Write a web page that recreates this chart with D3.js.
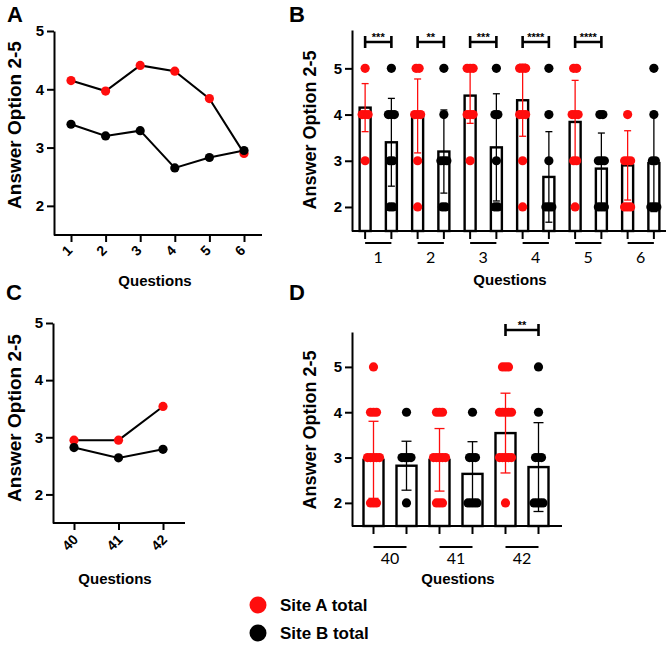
<!DOCTYPE html>
<html>
<head>
<meta charset="utf-8">
<script src="https://cdn.jsdelivr.net/npm/d3@7"></script>
<style>
  body { margin: 0; background: #fff; }
  svg { display: block; }
</style>
</head>
<body>
<svg id="fig" width="669" height="645"></svg>
<script>
// ---- data ----
const questionsAB = ["1", "2", "3", "4", "5", "6"];
const siteA_AB = [4.15, 3.97, 4.41, 4.31, 3.84, 2.90];
const siteB_AB = [3.40, 3.20, 3.29, 2.65, 2.83, 2.95];
const sdA_B = [0.52, 0.80, 0.60, 0.78, 0.90, 0.75];
const sdB_B = [0.95, 0.90, 1.16, 0.98, 0.77, 1.05];
const sigB = ["***", "**", "***", "****", "****", ""];

const questionsCD = ["40", "41", "42"];
const siteA_CD = [2.95, 2.95, 3.54];
const siteB_CD = [2.82, 2.64, 2.79];
const sdA_D = [0.85, 0.69, 0.88];
const sdB_D = [0.54, 0.71, 0.98];
const sigD = ["", "", "**"];

// individual answers: how many dots sit at each answer level
const answerLevels = [5, 4, 3, 2];
const countsA_B = [[1, 3, 1, 0], [2, 3, 1, 1], [3, 3, 1, 0], [3, 3, 1, 1], [2, 3, 2, 1], [0, 1, 3, 3]];
const countsB_B = [[1, 3, 2, 2], [1, 1, 3, 2], [1, 2, 1, 2], [1, 1, 1, 3], [0, 2, 3, 3], [1, 1, 2, 3]];
const countsA_D = [[1, 3, 5, 3], [0, 3, 5, 3], [3, 5, 5, 1]];
const countsB_D = [[0, 1, 4, 1], [0, 1, 3, 4], [1, 1, 3, 4]];

const yTicks = [2, 3, 4, 5];
const legendLabels = ["Site A total", "Site B total"];

const RED = "#ff0d0d";
const FONT = "'Liberation Sans', Arial, sans-serif";
const svg = d3.select("#fig");

function styleAxis(g, fs) {
  g.selectAll("path, line").attr("stroke", "#000").attr("stroke-width", 2);
  g.selectAll("text").attr("font-family", FONT).attr("font-weight", "bold")
    .attr("font-size", fs).attr("fill", "#000");
}

function panelLabel(t, x, y) {
  svg.append("text").attr("x", x).attr("y", y).text(t)
    .attr("font-family", FONT).attr("font-weight", "bold").attr("font-size", 22);
}

function yTitle(x, y, fs) {
  svg.append("text").attr("transform", `translate(${x},${y}) rotate(-90)`)
    .attr("text-anchor", "middle").attr("dy", "0.35em")
    .attr("font-family", FONT).attr("font-weight", "bold").attr("font-size", fs)
    .text("Answer Option 2-5");
}

function xTitle(x, y) {
  svg.append("text").attr("x", x).attr("y", y).attr("text-anchor", "middle")
    .attr("font-family", FONT).attr("font-weight", "bold").attr("font-size", 15)
    .text("Questions");
}

// line panels (A, C)
function linePanel(o) {
  const x = d3.scalePoint().domain(o.cats).range(o.xr);
  const y = d3.scaleLinear().domain([1.5, 5]).range(o.yr);
  const g = svg.append("g");

  const ya = g.append("g").attr("transform", `translate(${o.ax},0)`)
    .call(d3.axisLeft(y).tickValues(yTicks).tickFormat(d3.format("d")).tickSize(7).tickSizeOuter(0).tickPadding(3));
  styleAxis(ya, 15);

  const xa = g.append("g").attr("transform", `translate(0,${o.yr[0]})`)
    .call(d3.axisBottom(x).tickSize(7).tickSizeOuter(0));
  xa.select(".domain").remove();
  styleAxis(xa, 14);
  xa.selectAll("text").attr("text-anchor", "middle").attr("dy", null)
    .attr("transform", `translate(-1,${o.labDy}) rotate(-45)`).attr("y", 0);
  g.append("line").attr("x1", o.ax).attr("x2", o.xEnd)
    .attr("y1", o.yr[0]).attr("y2", o.yr[0]).attr("stroke", "#000").attr("stroke-width", 2);

  const line = d3.line().x((d, i) => x(o.cats[i])).y(d => y(d));
  [o.a, o.b].forEach(vals => {
    g.append("path").datum(vals).attr("d", line).attr("fill", "none")
      .attr("stroke", "#000").attr("stroke-width", 2);
  });
  [[o.a, RED], [o.b, "#000"]].forEach(([vals, col]) => {
    g.selectAll(null).data(vals).enter().append("circle")
      .attr("cx", (d, i) => x(o.cats[i])).attr("cy", d => y(d)).attr("r", 4.6).attr("fill", col);
  });
}

// bar panels (B, D)
function barPanel(o) {
  const x0 = d3.scaleBand().domain(o.cats).range(o.xr);
  const x1 = d3.scaleBand().domain(["A", "B"]).range([0, x0.bandwidth()]);
  const xc = (c, s) => x0(c) + x1(s) + x1.bandwidth() / 2;
  const y = d3.scaleLinear().domain(o.ydom).range(o.yr);
  const g = svg.append("g");
  const base = o.yr[0];

  const ya = g.append("g").attr("transform", `translate(${o.ax},0)`)
    .call(d3.axisLeft(y).tickValues(yTicks).tickFormat(d3.format("d")).tickSize(7).tickSizeOuter(0).tickPadding(3));
  styleAxis(ya, 15);
  g.append("line").attr("x1", o.ax).attr("x2", o.xEnd).attr("y1", base).attr("y2", base)
    .attr("stroke", "#000").attr("stroke-width", 2);

  const sites = [
    { key: "A", col: RED, means: o.meansA, sd: o.sdA, counts: o.countsA },
    { key: "B", col: "#000", means: o.meansB, sd: o.sdB, counts: o.countsB }
  ];

  sites.forEach(s => {
    o.cats.forEach((c, i) => {
      const cx = xc(c, s.key);
      // tick below axis
      g.append("line").attr("x1", cx).attr("x2", cx).attr("y1", base).attr("y2", base + 8)
        .attr("stroke", "#000").attr("stroke-width", 2);
      // bar
      g.append("rect").attr("x", cx - o.barW / 2).attr("y", y(s.means[i]))
        .attr("width", o.barW).attr("height", base - y(s.means[i]))
        .attr("fill", "none").attr("stroke", "#000").attr("stroke-width", 2.4);
    });
  });

  sites.forEach(s => {
    o.cats.forEach((c, i) => {
      const cx = xc(c, s.key);
      const lo = y(s.means[i] - s.sd[i]), hi = y(s.means[i] + s.sd[i]);
      const eg = g.append("g").attr("stroke", s.col).attr("stroke-width", 1.3);
      eg.append("line").attr("x1", cx).attr("x2", cx).attr("y1", lo).attr("y2", hi);
      eg.append("line").attr("x1", cx - o.capW / 2).attr("x2", cx + o.capW / 2).attr("y1", lo).attr("y2", lo);
      eg.append("line").attr("x1", cx - o.capW / 2).attr("x2", cx + o.capW / 2).attr("y1", hi).attr("y2", hi);
    });
  });

  sites.forEach(s => {
    o.cats.forEach((c, i) => {
      const cx = xc(c, s.key);
      answerLevels.forEach((lv, k) => {
        const n = s.counts[i][k];
        for (let j = 0; j < n; j++) {
          g.append("circle").attr("cx", cx + (j - (n - 1) / 2) * 3).attr("cy", y(lv))
            .attr("r", 4.6).attr("fill", s.col);
        }
      });
    });
  });

  // pair underline + category label
  o.cats.forEach(c => {
    const xa = xc(c, "A"), xb = xc(c, "B");
    g.append("line").attr("x1", xa).attr("x2", xb).attr("y1", base + o.pairDy).attr("y2", base + o.pairDy)
      .attr("stroke", "#000").attr("stroke-width", 2);
    g.append("text").attr("x", (xa + xb) / 2).attr("y", base + o.labDy).attr("text-anchor", "middle")
      .attr("font-family", "Lato, 'Open Sans', sans-serif").attr("font-size", 16).text(c);
  });

  // significance brackets
  o.cats.forEach((c, i) => {
    if (!o.sig[i]) return;
    const xa = xc(c, "A"), xb = xc(c, "B"), by = o.brY;
    g.append("path")
      .attr("d", `M${xa},${by - 6}V${by + 6}M${xa},${by}H${xb}M${xb},${by - 6}V${by + 6}`)
      .attr("fill", "none").attr("stroke", "#000").attr("stroke-width", 2.6);
    g.append("text").attr("x", (xa + xb) / 2).attr("y", by - 1).attr("text-anchor", "middle")
      .attr("font-family", FONT).attr("font-weight", "bold").attr("font-size", 11).text(o.sig[i]);
  });
}

// ---- panel A ----
panelLabel("A", 7, 22);
linePanel({ cats: questionsAB, a: siteA_AB, b: siteB_AB, xr: [71, 244], yr: [235, 31], ax: 54, xEnd: 262, labDy: 19 });
yTitle(14, 125, 19);
xTitle(155, 286);

// ---- panel B ----
panelLabel("B", 289, 22);
barPanel({
  cats: questionsAB, meansA: siteA_AB, meansB: siteB_AB, sdA: sdA_B, sdB: sdB_B,
  countsA: countsA_B, countsB: countsB_B, sig: sigB,
  xr: [352, 667], yr: [231, 30], ydom: [1.48, 5.83], ax: 352, xEnd: 666,
  barW: 11, capW: 7, brY: 42, pairDy: 12, labDy: 32
});
yTitle(310, 130, 18);
xTitle(510, 285);

// ---- panel C ----
panelLabel("C", 6, 300);
linePanel({ cats: questionsCD, a: siteA_CD, b: siteB_CD, xr: [74, 163], yr: [523, 323], ax: 53, xEnd: 185, labDy: 23 });
yTitle(14, 418, 19);
xTitle(115, 584);

// ---- panel D ----
panelLabel("D", 289, 300);
barPanel({
  cats: questionsCD, meansA: siteA_CD, meansB: siteB_CD, sdA: sdA_D, sdB: sdB_D,
  countsA: countsA_D, countsB: countsB_D, sig: sigD,
  xr: [357, 555], yr: [526, 332], ydom: [1.49, 5.77], ax: 352, xEnd: 562,
  barW: 20, capW: 10, brY: 330, pairDy: 21, labDy: 38
});
yTitle(310, 430, 18);
xTitle(458, 584);

// ---- legend ----
legendLabels.forEach((t, i) => {
  const cy = 605 + i * 28;
  svg.append("circle").attr("cx", 258).attr("cy", cy).attr("r", 8.5).attr("fill", i === 0 ? RED : "#000");
  svg.append("text").attr("x", 280).attr("y", cy + 6).text(t)
    .attr("font-family", FONT).attr("font-weight", "bold").attr("font-size", 17);
});
</script>
</body>
</html>
